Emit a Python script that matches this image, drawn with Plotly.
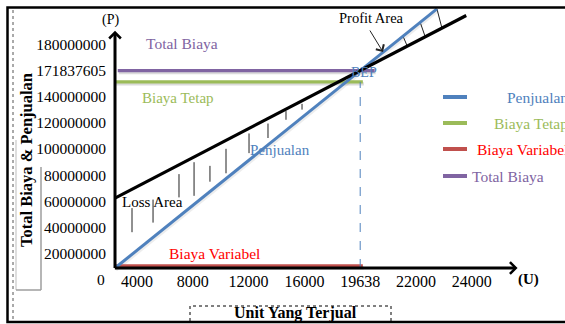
import numpy as np
import plotly.graph_objects as go

W, H = 565, 324
FONT = "Liberation Serif"

# ---------------------------------------------------------------- data
UNIT_TICKS = [4000, 8000, 12000, 16000, 19638, 22000, 24000]
RP_TICKS = [20000000, 40000000, 60000000, 80000000, 100000000,
            120000000, 140000000, 171837605, 180000000]
UNIT_LABELS = [str(v) for v in UNIT_TICKS]
RP_LABELS = [str(v) for v in RP_TICKS]

BEP_UNIT = 19638
BEP_RP = 171837605
TOTAL_BIAYA = 171837605
BIAYA_TETAP = 158000000
BIAYA_VARIABEL = 3000000
BIAYA_AWAL = 62500000            # total-cost line at zero units

PENJUALAN_END_UNIT = 22750
TOTAL_COST_END_UNIT = 23800
TOTAL_BIAYA_SPAN = [500, 20250]
BIAYA_TETAP_SPAN = [0, 19750]
BIAYA_VARIABEL_SPAN = [0, 19750]

# hatching between the cost and revenue lines
LOSS_HATCH_UNITS = [3090, 5150, 7010, 8090, 9230, 10380, 12030, 13390, 14680, 15830]
LOSS_HATCH_SPAN = [(0.29, 0.66), (0.36, 0.75), (0.18, 0.63), (0.11, 0.82), (0.40, 0.77),
                   (0.22, 0.86), (0.16, 0.78), (0.19, 0.74), (0.09, 0.50), (0.18, 0.53)]
PROFIT_HATCH_UNITS = [21450, 22150, 22750]

# ------------------------------------------------- evenly spaced diagram grid
# tick labels sit one grid step apart; zero sits at the axis corner
UNIT_GRID_VALUES = [0] + UNIT_TICKS
UNIT_GRID_POS = [-0.394, 0, 1, 2, 3, 4, 5, 6]
RP_GRID_VALUES = [0] + RP_TICKS
RP_GRID_POS = [0.451] + list(range(1, 10))


def to_grid(v, vals, pos):
    v = np.atleast_1d(np.asarray(v, dtype=float))
    out = np.interp(v, vals, pos)
    hi = v > vals[-1]
    slope = (pos[-1] - pos[-2]) / (vals[-1] - vals[-2])
    out[hi] = pos[-1] + (v[hi] - vals[-1]) * slope
    return out


def gx(v):
    return to_grid(v, UNIT_GRID_VALUES, UNIT_GRID_POS)


def gy(v):
    return to_grid(v, RP_GRID_VALUES, RP_GRID_POS)


def straight(p0, p1, x_units):
    """Points on the straight diagram line through p0 and p1 (unit, rupiah)."""
    x0, y0 = gx(p0[0])[0], gy(p0[1])[0]
    x1, y1 = gx(p1[0])[0], gy(p1[1])[0]
    xs = gx(x_units)
    return xs, y0 + (xs - x0) / (x1 - x0) * (y1 - y0)


origin = (0, 0)
bep = (BEP_UNIT, BEP_RP)
cost_start = (0, BIAYA_AWAL)

pj_x, pj_y = straight(origin, bep, [0, PENJUALAN_END_UNIT])
tc_x, tc_y = straight(cost_start, bep, [0, TOTAL_COST_END_UNIT])

# ---------------------------------------------------------------- figure
XR = [-137 / 55.8, (W - 137) / 55.8]
YR = [(279.8 - H) / 26.15, 279.8 / 26.15]
SHX, SHY = 1.0 / 55.8, 2.0 / 26.15

fig = go.Figure()

PURPLE, GREEN, RED, BLUE = "#8064A2", "#9BBB59", "#C0504D", "#4F81BD"

hlines = [
    (TOTAL_BIAYA_SPAN, TOTAL_BIAYA, PURPLE),
    (BIAYA_TETAP_SPAN, BIAYA_TETAP, GREEN),
    (BIAYA_VARIABEL_SPAN, BIAYA_VARIABEL, RED),
]

# soft drop shadows under the coloured lines
for span, lvl, _ in hlines:
    fig.add_trace(go.Scatter(x=gx(span), y=gy([lvl, lvl]), mode="lines",
                             line=dict(color="rgba(0,0,0,0.14)", width=3.2),
                             xaxis="x2", yaxis="y2", hoverinfo="skip", showlegend=False))
fig.add_trace(go.Scatter(x=pj_x, y=pj_y, mode="lines",
                         line=dict(color="rgba(0,0,0,0.07)", width=3),
                         xaxis="x2", yaxis="y2", hoverinfo="skip", showlegend=False))

for span, lvl, col in hlines:
    fig.add_trace(go.Scatter(x=gx(span), y=gy([lvl, lvl]), mode="lines",
                             line=dict(color=col, width=3.2),
                             xaxis="x3", yaxis="y3", showlegend=False))

# BEP drop line
fig.add_trace(go.Scatter(x=gx([BEP_UNIT, BEP_UNIT]), y=gy([0, BIAYA_TETAP]), mode="lines",
                         line=dict(color=BLUE, width=1, dash="dash"),
                         xaxis="x3", yaxis="y3", showlegend=False))

# hatching
hx, hy = [], []
for u, (a, b) in zip(LOSS_HATCH_UNITS, LOSS_HATCH_SPAN):
    _, ytop = straight(cost_start, bep, [u])
    _, ybot = straight(origin, bep, [u])
    xx = gx(u)[0]
    hx += [xx, xx, None]
    hy += [ytop[0] + a * (ybot[0] - ytop[0]), ytop[0] + b * (ybot[0] - ytop[0]), None]
for u in PROFIT_HATCH_UNITS:
    x1, y1 = straight(origin, bep, [u])
    x2, y2 = straight(cost_start, bep, [u + 180])
    hx += [x1[0], x2[0], None]
    hy += [y1[0], y2[0], None]
fig.add_trace(go.Scatter(x=hx, y=hy, mode="lines", line=dict(color="#222222", width=1),
                         xaxis="x3", yaxis="y3", showlegend=False))

fig.add_trace(go.Scatter(x=pj_x, y=pj_y, mode="lines", line=dict(color=BLUE, width=3),
                         xaxis="x3", yaxis="y3", showlegend=False))
fig.add_trace(go.Scatter(x=tc_x, y=tc_y, mode="lines", line=dict(color="black", width=3.2),
                         xaxis="x3", yaxis="y3", showlegend=False))

# ---------------------------------------------------------------- helpers


def px(x, y):
    return x / W, 1 - y / H


def label(text, x, y, size=15, color="black", bold=False, anchor="center", angle=0):
    xp, yp = px(x, y)
    fig.add_annotation(x=xp, y=yp, xref="paper", yref="paper", showarrow=False,
                       text=f"<b>{text}</b>" if bold else text, textangle=angle,
                       xanchor=anchor, yanchor="middle",
                       font=dict(family=FONT, size=size, color=color))


# axes with arrow heads
ox, oy = gx(0)[0], gy(0)[0]
fig.add_annotation(x=6.82, y=oy, ax=ox - 0.03, ay=oy, xref="x", yref="y", axref="x", ayref="y",
                   text="", showarrow=True, arrowhead=4, arrowsize=0.75, arrowwidth=3,
                   arrowcolor="black", standoff=0)
fig.add_annotation(x=ox, y=9.52, ax=ox, ay=oy - 0.06, xref="x", yref="y", axref="x", ayref="y",
                   text="", showarrow=True, arrowhead=4, arrowsize=0.75, arrowwidth=3,
                   arrowcolor="black", standoff=0)

# text on the diagram
label("Total Biaya", 182, 44, 15.5, PURPLE)
label("Biaya Tetap", 178, 98, 15, GREEN)
label("Penjualan", 280, 150, 15, BLUE)
label("Loss Area", 152, 202, 15)
label("Biaya Variabel", 214, 253, 15.5, "#FF0000")
label("Profit Area", 371, 18, 14.5)
label("BEP", 364, 72, 14, BLUE)
label("(P)", 110, 20, 14)
label("(U)", 528, 279, 15, bold=True)
label("0", 101, 279, 15.5)
label("Total Biaya &amp; Penjualan", 26, 160, 16.5, bold=True, angle=-90)
label("Unit Yang Terjual", 295, 313, 16, bold=True)

# arrow pointing into the profit area
tip = px(383, 52)
fig.add_annotation(x=tip[0], y=tip[1], ax=-14, ay=-23,
                   xref="paper", yref="paper", axref="pixel", ayref="pixel", text="",
                   showarrow=True, arrowhead=4, arrowsize=1.8, arrowwidth=1,
                   arrowcolor="#222222", standoff=0)

# legend
legend_items = [("Penjualan", BLUE, 97, "right"), ("Biaya Tetap", GREEN, 123, "right"),
                ("Biaya Variabel", "#FF0000", 149, "right"), ("Total Biaya", PURPLE, 176, "left")]
swatch = {"Penjualan": BLUE, "Biaya Tetap": GREEN, "Biaya Variabel": RED, "Total Biaya": PURPLE}
shapes = []
for name, tcol, y, side in legend_items:
    x0, y0 = px(443, y)
    x1, _ = px(467, y)
    shapes.append(dict(type="line", xref="paper", yref="paper", x0=x0, x1=x1, y0=y0, y1=y0,
                       line=dict(color=swatch[name], width=4)))
    if side == "right":
        label(name, 570, y, 15.5, tcol, anchor="right")
    else:
        label(name, 470, y, 15.5, tcol, anchor="left")


# frame and text boxes
def seg(x0, y0, x1, y1, color, width, dash="solid"):
    a, b = px(x0, y0)
    c, d = px(x1, y1)
    shapes.append(dict(type="line", xref="paper", yref="paper", x0=a, y0=b, x1=c, y1=d,
                       line=dict(color=color, width=width, dash=dash)))


def rect(x0, y0, x1, y1, color, width, dash="solid"):
    a, b = px(x0, y0)
    c, d = px(x1, y1)
    shapes.append(dict(type="rect", xref="paper", yref="paper", x0=a, y0=d, x1=c, y1=b,
                       line=dict(color=color, width=width, dash=dash)))


rect(7.5, 7.5, 620, 322, "black", 2.5)
seg(13, 10, 13, 320, "#555555", 1, "dot")
# open box around the vertical axis title
seg(16, 140, 16, 290, "#BDBDBD", 1)
seg(16, 290, 41, 290, "#9E9E9E", 1.5)
seg(41, 167, 41, 290, "#9E9E9E", 1.5)
rect(190, 306, 391, 330, "black", 1, "dot")

fig.update_layout(
    width=W, height=H, autosize=False,
    margin=dict(l=0, r=0, t=0, b=0),
    paper_bgcolor="white", plot_bgcolor="white",
    showlegend=False, shapes=shapes,
    xaxis=dict(range=XR, anchor="free", position=1 - 268 / H, tickvals=list(range(7)),
               ticktext=UNIT_LABELS, ticks="", showgrid=False, zeroline=False, showline=False,
               tickfont=dict(family=FONT, size=16, color="black"), ticklabelstandoff=2,
               fixedrange=True),
    yaxis=dict(range=YR, anchor="free", position=115 / W, tickvals=list(range(1, 10)),
               ticktext=RP_LABELS, ticks="", showgrid=False, zeroline=False, showline=False,
               tickfont=dict(family=FONT, size=15.5, color="black"), ticklabelstandoff=9,
               fixedrange=True),
    xaxis2=dict(range=[XR[0] - SHX, XR[1] - SHX], overlaying="x", visible=False),
    yaxis2=dict(range=[YR[0] + SHY, YR[1] + SHY], overlaying="y", visible=False),
    xaxis3=dict(range=XR, overlaying="x", visible=False),
    yaxis3=dict(range=YR, overlaying="y", visible=False),
)

fig.write_html("out.html")
